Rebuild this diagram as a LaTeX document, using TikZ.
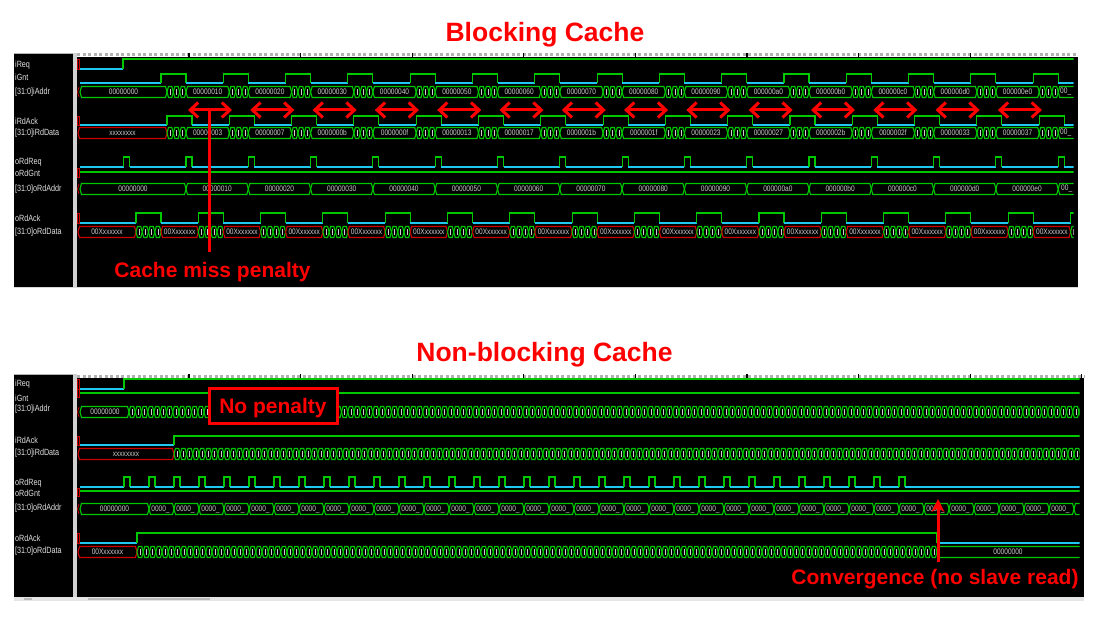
\documentclass[tikz,border=0pt]{standalone}
\usepackage{fontspec}
\setmainfont{Liberation Sans}
\usetikzlibrary{arrows.meta}
\definecolor{wg}{RGB}{0,200,0}
\definecolor{wc}{RGB}{30,200,240}
\definecolor{xr}{RGB}{205,0,0}
\definecolor{ar}{RGB}{255,0,0}
\definecolor{lt}{RGB}{225,225,225}
\definecolor{btc}{RGB}{205,205,205}
\tikzset{
  hi/.style={draw=wg, line width=1.1pt},
  lo/.style={draw=wc, line width=1.1pt},
  busg/.style={draw=wg, line width=1.1pt},
  busr/.style={draw=xr, line width=1.1pt},
  mk/.style={draw=xr, line width=0.8pt},
  lab/.style={anchor=west, text=lt, font=\fontsize{9}{9}\selectfont, inner sep=0pt},
  btx/.style={text=btc, font=\fontsize{8}{8}\selectfont, inner sep=0pt},
  annot/.style={text=ar, font=\fontsize{21}{24}\selectfont\bfseries, anchor=base, inner sep=0pt},
  ttl/.style={text=ar, font=\fontsize{26.5}{30}\selectfont\bfseries, anchor=base, inner sep=0pt},
  dbl/.style={draw=ar, line width=3pt, {Straight Barb[length=8pt,width=15pt]}-{Straight Barb[length=8pt,width=15pt]}},
}
\newcommand\bseg[4]{\draw[#4] (#1,#3) -- (#1+1.5,#3-5.5) -- (#2-1.5,#3-5.5) -- (#2,#3) -- (#2-1.5,#3+5.5) -- (#1+1.5,#3+5.5) -- cycle;}
\newcommand\bcell[3]{\bseg{#1}{#2}{#3}{busg}\draw[btc, line width=0.7pt] ({(#1+#2)/2},#3-3) -- ({(#1+#2)/2},#3+3);}
\newcommand\bx[1]{\scalebox{0.82}[1]{#1}}
\def\per{62.3}
\def\tz{161}
\begin{document}
\begin{tikzpicture}[x=1pt,y=-1pt]
\useasboundingbox (0,0) rectangle (1100,620);
\fill[white] (0,0) rectangle (1100,620);

%================ TOP PANEL =================
\fill[black] (14,53) rectangle (1078,288);
\fill[gray!35] (73,53) rectangle (76.5,288);
\draw[gray!60, line width=1pt] (14,53.5) -- (73,53.5);
\draw[gray!30, line width=1pt] (14,288) -- (1078,288);
\fill[white] (77,53) rectangle (1078,57);
\draw[gray!60, line width=3pt, dash pattern=on 3pt off 2.5pt] (77,55) -- (1078,55);
\foreach \k in {0,...,7} \draw[black, line width=1.2pt] (189+111.6*\k,53) -- (189+111.6*\k,57);

\foreach \y/\s [count=\n] in {65/iReq, 77/iGnt, 92/{[31:0]iAddr}, 121/iRdAck, 133/{[31:0]iRdData}, 162/oRdReq, 173/oRdGnt, 189/{[31:0]oRdAddr}, 218/oRdAck, 232/{[31:0]oRdData}}
  \node[lab] (la\n) at (15,\y) {\scalebox{0.8}[1]{\s}};

\begin{scope}
\clip (77,57) rectangle (1073.5,288);
% markers
\draw[mk] (77.5,59) rectangle (79.5,69);
\draw[mk] (77.5,116) rectangle (79.5,125);
\draw[mk] (77.5,168) rectangle (79.5,177);
\draw[mk] (77.5,213) rectangle (79.5,223);
\draw[mk] (79,87) -- (77.5,92) -- (79,97);
\draw[mk] (79,184) -- (77.5,189) -- (79,194);
% iReq
\draw[lo] (80,69) -- (123,69);
\draw[hi] (123,69) -- (123,59) -- (1080,59);
% iGnt
\draw[lo] (80,83) -- (\tz,83);
\foreach \k in {0,...,14}{
  \pgfmathsetmacro\tk{\tz+\per*\k}
  \draw[hi] (\tk,83) -- (\tk,74) -- (\tk+25,74) -- (\tk+25,83);
  \draw[lo] (\tk+25,83) -- (\tk+\per,83);
}
% iRdAck
\draw[lo] (80,125) -- (\tz+6,125);
\foreach \k in {0,...,14}{
  \pgfmathsetmacro\tk{\tz+\per*\k}
  \draw[hi] (\tk+6,125) -- (\tk+6,116) -- (\tk+31,116) -- (\tk+31,125);
  \draw[lo] (\tk+31,125) -- (\tk+\per+6,125);
}
% oRdReq
\draw[lo] (80,167) -- (\tz-\per+25,167);
\foreach \k in {-1,...,14}{
  \pgfmathsetmacro\tk{\tz+\per*\k}
  \draw[hi] (\tk+25,167) -- (\tk+25,157) -- (\tk+31,157) -- (\tk+31,167);
  \draw[lo] (\tk+31,167) -- (\tk+\per+25,167);
}
% oRdGnt
\draw[hi] (80,172) -- (1080,172);
% oRdAck
\draw[lo] (80,223) -- (\tz-25,223);
\foreach \k in {0,...,15}{
  \pgfmathsetmacro\tk{\tz+\per*\k}
  \draw[hi] (\tk-25,223) -- (\tk-25,213) -- (\tk,213) -- (\tk,223);
  \draw[lo] (\tk,223) -- (\tk+\per-25,223);
}
% iAddr / iRdData buses
\bseg{80}{167}{92}{busg}
\node[btx] (a0) at (123.5,92) {\bx{00000000}};
\bseg{78}{167}{133}{busr}
\node[btx] (d0) at (122.5,133) {\bx{xxxxxxxx}};
\foreach \k/\a/\d in {0/00000010/00000003, 1/00000020/00000007, 2/00000030/0000000b, 3/00000040/0000000f, 4/00000050/00000013, 5/00000060/00000017, 6/00000070/0000001b, 7/00000080/0000001f, 8/00000090/00000023, 9/000000a0/00000027, 10/000000b0/0000002b, 11/000000c0/0000002f, 12/000000d0/00000033, 13/000000e0/00000037}{
  \pgfmathsetmacro\tk{\tz+\per*\k}
  \foreach \j in {0,1,2}{
    \bcell{\tk+6+6.333*\j}{\tk+12.333+6.333*\j}{92}
    \bcell{\tk+6+6.333*\j}{\tk+12.333+6.333*\j}{133}
  }
  \bseg{\tk+25}{\tk+\per+6}{92}{busg}
  \bseg{\tk+25}{\tk+\per+6}{133}{busg}
  \node[btx] at (\tk+46.65,92) {\bx{\a}};
  \node[btx] at (\tk+46.65,133) {\bx{\d}};
}
\pgfmathsetmacro\tl{\tz+\per*14}
\foreach \j in {0,1,2}{
  \bcell{\tl+6+6.333*\j}{\tl+12.333+6.333*\j}{92}
  \bcell{\tl+6+6.333*\j}{\tl+12.333+6.333*\j}{133}
}
\bseg{\tl+25}{\tl+\per+6}{92}{busg}
\bseg{\tl+25}{\tl+\per+6}{133}{busg}
\node[btx, anchor=west] (a14) at (1060,92) {\bx{00\_}};
\node[btx, anchor=west] (d14) at (1060,133) {\bx{00\_}};
% oRdAddr
\bseg{80}{\tz+25}{189}{busg}
\node[btx] (oa0) at (133,189) {\bx{00000000}};
\foreach \k/\a in {0/00000010, 1/00000020, 2/00000030, 3/00000040, 4/00000050, 5/00000060, 6/00000070, 7/00000080, 8/00000090, 9/000000a0, 10/000000b0, 11/000000c0, 12/000000d0, 13/000000e0}{
  \pgfmathsetmacro\tk{\tz+\per*\k}
  \bseg{\tk+25}{\tk+\per+25}{189}{busg}
  \node[btx] at (\tk+25+\per/2,189) {\bx{\a}};
}
\bseg{\tl+25}{\tl+\per+25}{189}{busg}
\node[btx, anchor=west] (oa14) at (1061,189) {\bx{00\_}};
% oRdData
\bseg{78}{\tz-25}{232}{busr}
\node[btx] (od0) at (107,232) {\bx{00Xxxxxxx}};
\foreach \k in {0,...,14}{
  \pgfmathsetmacro\tk{\tz+\per*\k}
  \foreach \j in {0,1,2,3}{
    \bcell{\tk-25+6.25*\j}{\tk-18.75+6.25*\j}{232}
  }
  \bseg{\tk}{\tk+\per-25}{232}{busr}
  \node[btx] at (\tk+18.65,232) {\bx{00Xxxxxxx}};
}
\pgfmathsetmacro\tm{\tz+\per*15}
\bcell{\tm-25}{\tm-18.75}{232}
\end{scope}

% annotations top
\foreach \k in {0,...,13}{
  \pgfmathsetmacro\tk{\tz+\per*\k}
  \coordinate (al\k) at (\tk+27,110);
  \coordinate (ar\k) at (\tk+71,110);
  \draw[dbl] (al\k) -- (ar\k);
}
\coordinate (mp1) at (209,110);
\coordinate (mp2) at (209,252);
\draw[ar, line width=3pt] (mp1) -- (mp2);
\node[annot] (cmp) at (212.5,277.5) {Cache miss penalty};
\node[ttl] (t1) at (545,41.5) {Blocking Cache};

%================ BOTTOM PANEL =================
\fill[black] (14,374) rectangle (1084,597);
\fill[gray!35] (73,374) rectangle (76.5,597);
\draw[gray!60, line width=1pt] (14,374.5) -- (73,374.5);
\fill[white] (77,374) rectangle (1084,378);
\draw[gray!60, line width=3pt, dash pattern=on 3pt off 2.5pt] (77,376) -- (1084,376);
\foreach \k in {0,...,8} \draw[black, line width=1.2pt] (189+111.6*\k,374) -- (189+111.6*\k,378);
\fill[gray!20] (14,597) rectangle (1084,600.5);
\fill[gray!55] (24,597.5) rectangle (32,599.5);
\fill[gray!55] (88,597.5) rectangle (210,599.5);

\foreach \y/\s [count=\n] in {384/iReq, 398/iGnt, 409/{[31:0]iAddr}, 440/iRdAck, 453/{[31:0]iRdData}, 483/oRdReq, 493/oRdGnt, 508/{[31:0]oRdAddr}, 538/oRdAck, 551/{[31:0]oRdData}}
  \node[lab] (lb\n) at (15,\y) {\scalebox{0.8}[1]{\s}};

\begin{scope}
\clip (77,378) rectangle (1079.5,597);
\draw[mk] (77.5,379) rectangle (79.5,389);
\draw[mk] (77.5,389) rectangle (79.5,397);
\draw[mk] (77.5,436) rectangle (79.5,445);
\draw[mk] (77.5,488) rectangle (79.5,496);
\draw[mk] (77.5,533) rectangle (79.5,543);
\draw[mk] (79,407) -- (77.5,412) -- (79,417);
\draw[mk] (79,504) -- (77.5,509) -- (79,514);
% iReq
\draw[lo] (80,389) -- (124,389);
\draw[hi] (124,389) -- (124,379) -- (1085,379);
% iGnt
\draw[hi] (80,393) -- (1085,393);
% iAddr
\bseg{80}{129}{412}{busg}
\node[btx] (ba0) at (105,412) {\bx{00000000}};
\foreach \i in {0,...,152} {\bcell{129+6.25*\i}{135.25+6.25*\i}{412}}
% iRdAck
\draw[lo] (80,445) -- (174,445);
\draw[hi] (174,445) -- (174,436) -- (1085,436);
% iRdData
\bseg{78}{174}{454}{busr}
\node[btx] (bd0) at (126,454) {\bx{xxxxxxxx}};
\foreach \i in {0,...,145} {\bcell{174+6.25*\i}{180.25+6.25*\i}{454}}
% oRdReq
\draw[lo] (80,487) -- (124,487);
\foreach \k in {0,...,31}{
  \draw[hi] (124+25*\k,487) -- (124+25*\k,477) -- (130+25*\k,477) -- (130+25*\k,487);
  \draw[lo] (130+25*\k,487) -- (149+25*\k,487);
}
\draw[lo] (905,487) -- (1085,487);
% oRdGnt
\draw[hi] (80,491) -- (1085,491);
% oRdAddr
\bseg{80}{149}{509}{busg}
\node[btx] (boa0) at (114.5,509) {\bx{00000000}};
\foreach \k in {0,...,36}{
  \bseg{149+25*\k}{174+25*\k}{509}{busg}
  \node[btx] at (160.5+25*\k,509) {\bx{0000\_}};
}
\bseg{1074}{1099}{509}{busg}
% oRdAck
\draw[lo] (80,543) -- (137,543);
\draw[hi] (137,543) -- (137,533) -- (937,533) -- (937,543);
\draw[lo] (937,543) -- (1085,543);
% oRdData
\bseg{78}{137}{552}{busr}
\node[btx] (bod0) at (107.5,552) {\bx{00Xxxxxxx}};
\foreach \i in {0,...,127} {\bcell{137+6.25*\i}{143.25+6.25*\i}{552}}
\bseg{937}{1095}{552}{busg}
\node[btx] (bod1) at (1008,552) {\bx{00000000}};
\end{scope}

% annotations bottom
\node[draw=ar, line width=3pt, fill=black, minimum width=128pt, minimum height=35pt, inner sep=0pt] (npbox) at (273,405.5) {};
\node[annot] (np) at (273,413) {No penalty};
\coordinate (cv1) at (938,562);
\coordinate (cv2) at (938,499);
\draw[ar, line width=3pt, -{Stealth[length=13pt,width=13pt]}] (cv1) -- (cv2);
\node[annot] (cvg) at (935,584.5) {Convergence (no slave read)};
\node[ttl] (t2) at (544.5,361.5) {Non-blocking Cache};
\end{tikzpicture}
\end{document}
